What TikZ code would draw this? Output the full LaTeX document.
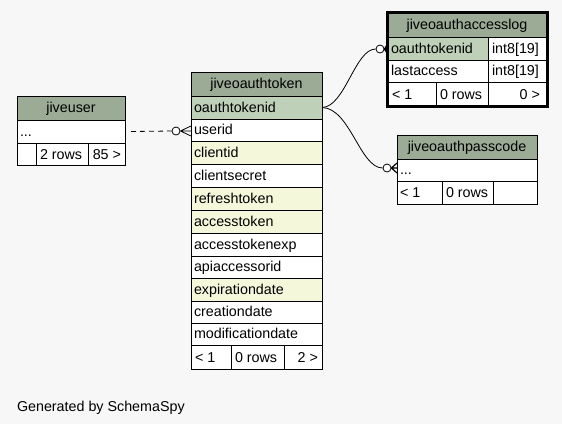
\documentclass[tikz,border=0pt]{standalone}
\usepackage{fontspec}
\setmainfont{Liberation Sans}
\definecolor{hdr}{HTML}{9BAB96}
\definecolor{pkc}{HTML}{BED1B8}
\definecolor{idx}{HTML}{F4F7DA}
\definecolor{bgc}{HTML}{F7F7F7}
\tikzset{
  box/.style={draw=black, line width=1pt, inner sep=0pt, outer sep=0pt},
  txt/.style={inner sep=0pt, outer sep=0pt, font=\fontsize{14.3}{16}\selectfont, text=black},
  conn/.style={line width=0.8pt, draw=black},
  ringmark/.style={circle, draw=black, line width=0.8pt, fill=white, minimum size=8pt, inner sep=0pt},
}
\newcommand{\cellbox}[6]{\node[box, fill=#6, minimum width={(#4)-(#2)}, minimum height={(#5)-(#3)}] (#1) at ({((#2)+(#4))/2},{((#3)+(#5))/2}) {};}
\newcommand{\txtL}[4]{\node[txt, anchor=base west] (#1) at (#2,#3) {#4};}
\newcommand{\txtC}[4]{\node[txt, anchor=base] (#1) at (#2,#3) {#4};}
\newcommand{\txtR}[4]{\node[txt, anchor=base east] (#1) at (#2,#3) {#4};}
\begin{document}
\begin{tikzpicture}[x=1pt,y=-1pt]
\fill[bgc] (0,0) rectangle (562,424);
\useasboundingbox (0,0) rectangle (562,424);

% jiveuser
\cellbox{Uh}{17}{96}{125}{120}{hdr}
\txtC{Uht}{71}{112.5}{jiveuser}
\cellbox{Ur}{17}{120}{125}{143}{white}
\txtL{Urt}{20}{136}{...}
\cellbox{Uf1}{17}{143}{36}{165}{white}
\cellbox{Uf2}{36}{143}{88}{165}{white}
\txtL{Uf2t}{40}{159}{2 rows}
\cellbox{Uf3}{88}{143}{125}{165}{white}
\txtR{Uf3t}{121}{159}{85 >}

% jiveoauthtoken
\cellbox{Th}{191}{72}{322}{96}{hdr}
\txtC{Tht}{256.5}{88.5}{jiveoauthtoken}
\cellbox{Tpk}{191}{96}{322}{119}{pkc}
\txtL{Tpkt}{194}{112}{oauthtokenid}
\cellbox{Tuser}{191}{119}{322}{141}{white}
\txtL{Tusert}{194}{134.5}{userid}
\cellbox{Tcid}{191}{141}{322}{164}{idx}
\txtL{Tcidt}{194}{157}{clientid}
\cellbox{Tcs}{191}{164}{322}{187}{white}
\txtL{Tcst}{194}{180}{clientsecret}
\cellbox{Trt}{191}{187}{322}{210}{idx}
\txtL{Trtt}{194}{203}{refreshtoken}
\cellbox{Tat}{191}{210}{322}{233}{idx}
\txtL{Tatt}{194}{226}{accesstoken}
\cellbox{Tate}{191}{233}{322}{256}{white}
\txtL{Tatet}{194}{249}{accesstokenexp}
\cellbox{Tapi}{191}{256}{322}{278}{white}
\txtL{Tapit}{194}{271.5}{apiaccessorid}
\cellbox{Texp}{191}{278}{322}{301}{idx}
\txtL{Texpt}{194}{294}{expirationdate}
\cellbox{Tcr}{191}{301}{322}{323}{white}
\txtL{Tcrt}{194}{316.5}{creationdate}
\cellbox{Tmod}{191}{323}{322}{345}{white}
\txtL{Tmodt}{194}{338.5}{modificationdate}
\cellbox{Tf1}{191}{345}{231}{369}{white}
\txtL{Tf1t}{195}{362}{< 1}
\cellbox{Tf2}{231}{345}{284}{369}{white}
\txtL{Tf2t}{235}{362}{0 rows}
\cellbox{Tf3}{284}{345}{322}{369}{white}
\txtR{Tf3t}{318}{362}{2 >}

% jiveoauthaccesslog
\cellbox{Lh}{387}{12}{547}{37}{hdr}
\txtC{Lht}{467}{29}{jiveoauthaccesslog}
\cellbox{Lpk}{387}{37}{488}{60}{pkc}
\txtL{Lpkt}{391}{53}{oauthtokenid}
\cellbox{Lpk2}{488}{37}{547}{60}{white}
\txtL{Lpk2t}{492}{53}{int8[19]}
\cellbox{Lla}{387}{60}{488}{82}{white}
\txtL{Llat}{391}{75.5}{lastaccess}
\cellbox{Lla2}{488}{60}{547}{82}{white}
\txtL{Lla2t}{492}{75.5}{int8[19]}
\cellbox{Lf1}{387}{82}{436}{106}{white}
\txtL{Lf1t}{392}{99}{< 1}
\cellbox{Lf2}{436}{82}{488}{106}{white}
\txtL{Lf2t}{440}{99}{0 rows}
\cellbox{Lf3}{488}{82}{547}{106}{white}
\txtR{Lf3t}{540}{99}{0 >}
\draw[line width=3pt] (Lh.north west) rectangle (Lf3.south east);

% jiveoauthpasscode
\cellbox{Ph}{397}{135}{537}{159}{hdr}
\txtC{Pht}{467}{151.5}{jiveoauthpasscode}
\cellbox{Pr}{397}{159}{537}{181}{white}
\txtL{Prt}{400}{174.5}{...}
\cellbox{Pf1}{397}{181}{442}{204}{white}
\txtL{Pf1t}{400}{197.5}{< 1}
\cellbox{Pf2}{442}{181}{493}{204}{white}
\txtL{Pf2t}{446}{197.5}{0 rows}
\cellbox{Pf3}{493}{181}{537}{204}{white}

% connectors
\node[ringmark] (c1) at (176,131) {};
\draw[conn, dash pattern=on 5pt off 4pt] ([xshift=6pt]Ur.east) -- (c1.west);
\coordinate (k1) at (191,131);
\draw[conn] (c1.east) -- ([yshift=5pt]k1) (c1.east) -- (k1) (c1.east) -- ([yshift=-5pt]k1);

\node[ringmark] (c2) at (380,49) {};
\draw[conn] (Tpk.east) .. controls (345,107) and (355,49) .. (c2.west);
\coordinate (k2) at (387,49);
\draw[line width=1.2pt] (c2.east) -- ([yshift=4pt]k2) (c2.east) -- (k2) (c2.east) -- ([yshift=-4pt]k2);

\node[ringmark] (c3) at (387,168) {};
\draw[conn] (Tpk.east) .. controls (350,108) and (360,168) .. (c3.west);
\coordinate (k3) at (397,168);
\draw[line width=1.2pt] (c3.east) -- ([yshift=5pt]k3) (c3.east) -- (k3) (c3.east) -- ([yshift=-5pt]k3);

\txtL{gen}{17}{411}{Generated by SchemaSpy}
\end{tikzpicture}
\end{document}
